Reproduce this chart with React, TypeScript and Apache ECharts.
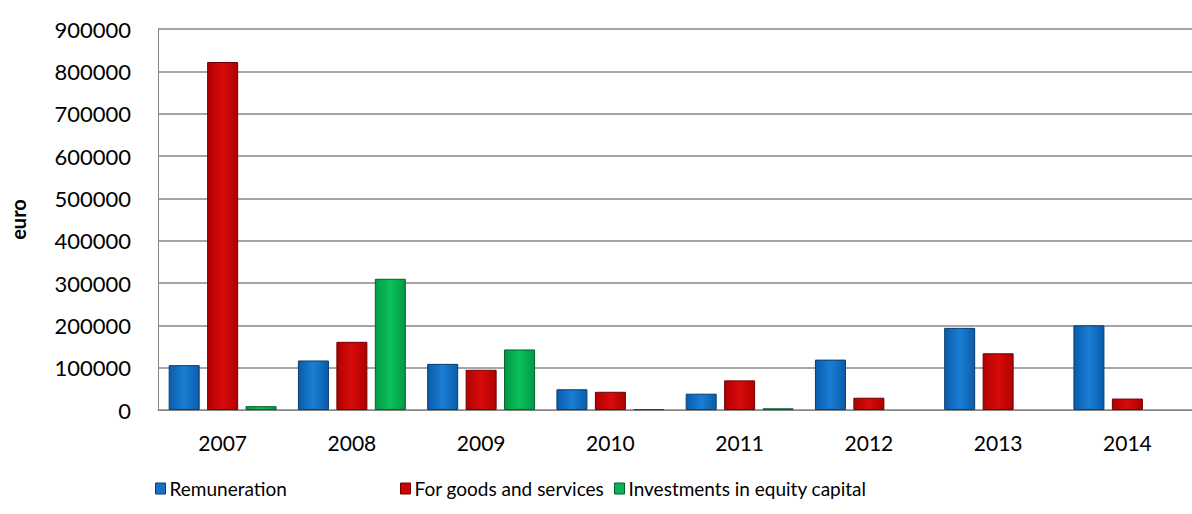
import React, { useEffect, useRef } from "react";
import * as echarts from "echarts";

const categories = ["2007", "2008", "2009", "2010", "2011", "2012", "2013", "2014"];
const remuneration = [106000, 117000, 109000, 49000, 38500, 119000, 194000, 200000];
const goodsServices = [822000, 161000, 95000, 43000, 70000, 29000, 134000, 27000];
const equityInvest = [9000, 310000, 143000, 2000, 4000, null, null, null];
const seriesNames = ["Remuneration", "For goods and services", "Investments in equity capital"];

const FONT = "Lato, 'Open Sans', 'Liberation Sans', sans-serif";

const palette = [
  { edge: "#0a5cab", mid: "#1a7ed4", border: "#0b3d6e", icon: "#1572c4" },
  { edge: "#b00000", mid: "#d80b0b", border: "#6e0000", icon: "#d00000" },
  { edge: "#009a45", mid: "#0cc05c", border: "#00602a", icon: "#0ab355" },
];
const legendLefts = [150, 395, 609];

function grad(edge: string, mid: string) {
  return new echarts.graphic.LinearGradient(0, 0, 1, 0, [
    { offset: 0, color: edge },
    { offset: 0.5, color: mid },
    { offset: 1, color: edge },
  ]);
}

export default function App() {
  const ref = useRef<HTMLDivElement>(null);
  useEffect(() => {
    document.body.style.margin = "0";
    if (!ref.current) return;
    const chart = echarts.init(ref.current, null, { renderer: "svg" });
    const datasets = [remuneration, goodsServices, equityInvest];
    chart.setOption({
      animation: false,
      grid: { left: 148, width: 1057, top: 29, bottom: 104 },
      legend: seriesNames.map((n, i) => ({
        left: legendLefts[i],
        bottom: 11,
        icon: "rect",
        itemWidth: 10,
        itemHeight: 11,
        itemGap: 5,
        textStyle: { fontFamily: FONT, fontSize: 19, color: "#000", padding: [0, 0, 0, -1] },
        data: [
          {
            name: n,
            itemStyle: { color: palette[i].icon, borderColor: palette[i].border, borderWidth: 1 },
          },
        ],
      })),
      xAxis: {
        type: "category",
        data: categories,
        axisLine: { lineStyle: { color: "#868686", width: 1 } },
        axisTick: { show: false },
        axisLabel: { fontFamily: FONT, fontSize: 21, color: "#000", margin: 22 },
      },
      yAxis: {
        type: "value",
        min: 0,
        max: 900000,
        interval: 100000,
        name: "euro",
        nameLocation: "middle",
        nameRotate: 90,
        nameGap: 130,
        nameTextStyle: { fontFamily: FONT, fontSize: 20, fontWeight: "bold", color: "#000" },
        axisLine: { show: true, lineStyle: { color: "#868686", width: 1 } },
        axisTick: { show: false },
        axisLabel: {
          fontFamily: FONT,
          fontSize: 22,
          color: "#000",
          margin: 27,
          formatter: (v: number) => String(v),
        },
        splitLine: { lineStyle: { color: "#888888", width: 1.5 } },
      },
      series: seriesNames.map((n, i) => ({
        name: n,
        type: "bar",
        data: datasets[i],
        barWidth: 31,
        barGap: "24%",
        itemStyle: { color: grad(palette[i].edge, palette[i].mid), borderColor: palette[i].border, borderWidth: 1 },
        emphasis: { disabled: true },
      })),
    });
    return () => chart.dispose();
  }, []);
  return <div ref={ref} style={{ width: 1192, height: 514 }} />;
}
